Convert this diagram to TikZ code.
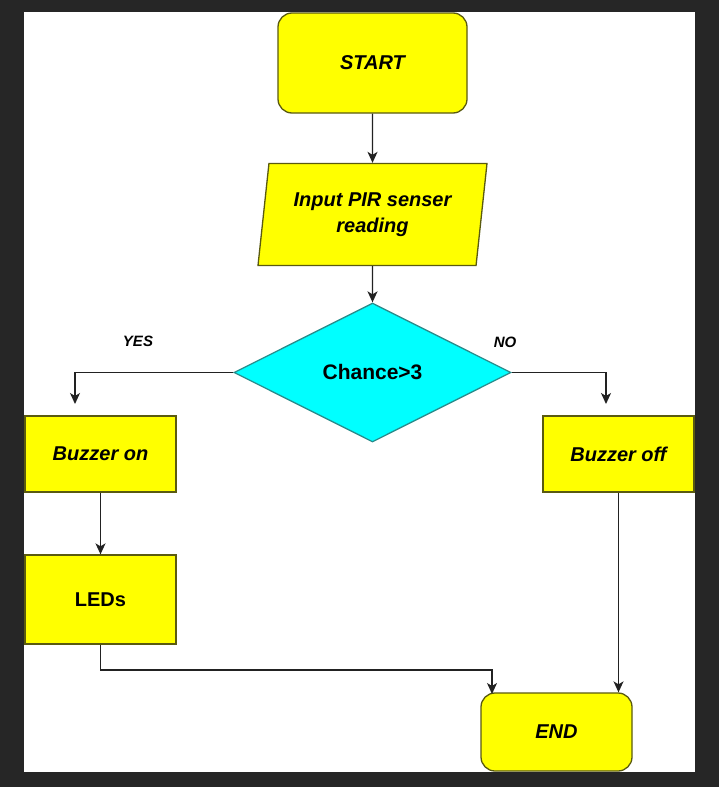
\documentclass[tikz,border=0pt]{standalone}
\usepackage{fontspec}
\setmainfont{Liberation Sans}
\usetikzlibrary{shapes.geometric,arrows.meta,calc}
\definecolor{bgdark}{HTML}{262626}
\definecolor{boxyellow}{HTML}{FFFF00}
\definecolor{boxedge}{HTML}{5A5A10}
\definecolor{diacyan}{HTML}{00FFFF}
\definecolor{diaedge}{HTML}{2A8C8C}
\definecolor{linegray}{HTML}{222222}
\tikzset{
  box/.style={draw=boxedge, fill=boxyellow, line width=1.3pt, inner sep=0pt, align=center,
    font=\fontsize{20}{26}\selectfont\bfseries\itshape},
  termbox/.style={box, rounded corners=14pt},
  procbox/.style={box},
  iobox/.style={box, trapezium, trapezium left angle=76, trapezium right angle=104,
    trapezium stretches body, minimum width=229pt, minimum height=102pt},
  decbox/.style={diamond, draw=diaedge, fill=diacyan, line width=1.3pt, inner sep=0pt,
    minimum width=277pt, minimum height=139pt, font=\fontsize{21}{26}\selectfont\bfseries},
  lbl/.style={font=\fontsize{15}{18}\selectfont\bfseries\itshape},
  arr/.style={draw=linegray, line width=1.4pt, -{Stealth[length=11pt,width=10pt,inset=3pt]}},
}
\begin{document}
\begin{tikzpicture}[x=1pt,y=-1pt]
\fill[bgdark] (0,0) rectangle (719,787);
\fill[white] (24,12) rectangle (695,772);
\useasboundingbox (0,0) rectangle (719,787);

\node[termbox, minimum width=189pt, minimum height=100pt] (start) at (372.5,63) {START};
\node[iobox] (input) at (372.5,214.5) {Input PIR senser\\reading};
\node[decbox] (dec) at (372.5,372.5) {Chance>3};
\node[procbox, minimum width=151pt, minimum height=76pt] (bon) at (100.5,454) {Buzzer on};
\node[procbox, minimum width=151pt, minimum height=76pt] (boff) at (618.5,454) {Buzzer off};
\node[procbox, minimum width=151pt, minimum height=89pt, font=\fontsize{20}{24}\selectfont\bfseries] (leds) at (100.5,599.5) {LEDs};
\node[termbox, minimum width=151pt, minimum height=78pt] (endn) at (556.5,732) {END};

\node[lbl] (yes) at (138,341) {YES};
\node[lbl] (no) at (505,342) {NO};

\coordinate (yesend) at (75,404);
\coordinate (noend) at (606,404);
\coordinate (ledbend) at (100.5,670);
\coordinate (endin) at (492,694);

\draw[arr] (start) -- (input);
\draw[arr] (input) -- (dec);
\draw[arr] (dec.west) -| (yesend);
\draw[arr] (dec.east) -| (noend);
\draw[arr] (bon) -- (leds);
\draw[arr] (leds.south) -- (ledbend) -| (endin);
\draw[arr] (boff.south) -- (boff.south |- endn.north);
\end{tikzpicture}
\end{document}
